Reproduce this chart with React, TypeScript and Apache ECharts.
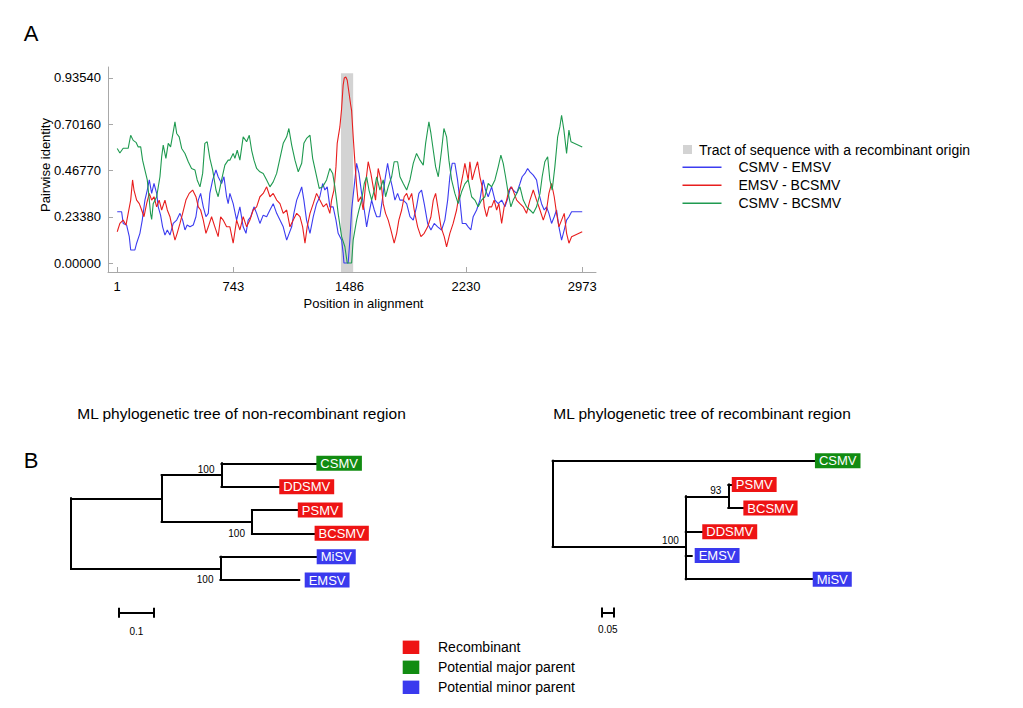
import React, { useEffect, useRef } from "react";
import * as echarts from "echarts";

const FONT = "'Liberation Sans', Arial, Helvetica, sans-serif";

// ---------- Panel A data ----------
const xTickValues = [1, 743, 1486, 2230, 2973];
const yTickValues = [0, 0.2338, 0.4677, 0.7016, 0.9354];
const recombinantTract = [1431, 1509];
const seriesNames = ["CSMV - EMSV", "EMSV - BCSMV", "CSMV - BCSMV"];

const csmvEmsv: [number, number][] = [
  [1,0.259],[29,0.259],[39,0.2],[61,0.192],[78,0.133],[87,0.066],[114,0.066],[125,0.1],[146,0.15],[161,0.217],[178,0.318],[193,0.369],[206,0.42],[221,0.352],[236,0.402],[253,0.352],[263,0.284],[278,0.242],[291,0.183],[306,0.141],[321,0.167],[338,0.141],[359,0.2],[381,0.217],[402,0.251],[419,0.217],[434,0.167],[448,0.192],[466,0.183],[487,0.192],[504,0.234],[519,0.318],[534,0.352],[551,0.284],[568,0.234],[583,0.251],[593,0.352],[611,0.42],[632,0.47],[646,0.436],[668,0.402],[683,0.436],[700,0.335],[710,0.3],[721,0.352],[742,0.3],[764,0.217],[785,0.284],[806,0.183],[824,0.15],[838,0.217],[854,0.234],[875,0.284],[892,0.251],[913,0.2],[934,0.242],[956,0.234],[977,0.268],[998,0.3],[1020,0.251],[1041,0.217],[1062,0.183],[1084,0.116],[1100,0.15],[1116,0.183],[1130,0.251],[1148,0.318],[1169,0.36],[1180,0.385],[1194,0.318],[1211,0.217],[1233,0.15],[1254,0.234],[1275,0.3],[1296,0.335],[1314,0.402],[1328,0.369],[1343,0.385],[1360,0.284],[1381,0.284],[1399,0.217],[1413,0.15],[1435,0.116],[1445,0.05],[1450,0.0],[1477,0.0],[1488,0.116],[1499,0.268],[1520,0.42],[1531,0.504],[1546,0.453],[1563,0.352],[1580,0.268],[1595,0.183],[1610,0.251],[1627,0.318],[1644,0.268],[1659,0.234],[1680,0.234],[1695,0.318],[1712,0.42],[1729,0.504],[1744,0.436],[1759,0.385],[1776,0.318],[1793,0.352],[1808,0.318],[1829,0.318],[1851,0.3],[1872,0.234],[1893,0.217],[1914,0.284],[1929,0.352],[1946,0.369],[1963,0.3],[1985,0.2],[2006,0.167],[2027,0.2],[2049,0.183],[2074,0.167],[2095,0.217],[2113,0.318],[2127,0.436],[2142,0.504],[2159,0.504],[2176,0.42],[2191,0.318],[2206,0.2],[2228,0.2],[2244,0.183],[2261,0.167],[2276,0.234],[2298,0.268],[2319,0.318],[2340,0.42],[2355,0.369],[2372,0.335],[2394,0.385],[2415,0.318],[2436,0.3],[2458,0.318],[2479,0.284],[2500,0.335],[2515,0.385],[2532,0.369],[2554,0.352],[2575,0.402],[2589,0.436],[2607,0.453],[2624,0.478],[2639,0.461],[2660,0.444],[2681,0.42],[2696,0.352],[2713,0.3],[2730,0.268],[2745,0.284],[2760,0.251],[2777,0.2],[2794,0.234],[2809,0.268],[2824,0.183],[2841,0.116],[2858,0.167],[2873,0.217],[2888,0.234],[2905,0.259],[2973,0.259]
];

const emsvBcsmv: [number, number][] = [
  [1,0.158],[18,0.2],[39,0.217],[57,0.192],[71,0.251],[87,0.318],[99,0.42],[108,0.369],[125,0.318],[142,0.3],[157,0.268],[172,0.234],[189,0.3],[206,0.352],[221,0.318],[236,0.335],[253,0.284],[269,0.318],[285,0.268],[306,0.318],[321,0.268],[338,0.234],[355,0.167],[370,0.116],[384,0.15],[402,0.2],[419,0.251],[440,0.318],[461,0.352],[483,0.369],[504,0.335],[519,0.284],[534,0.268],[551,0.217],[568,0.15],[583,0.183],[604,0.234],[625,0.183],[646,0.133],[662,0.234],[678,0.217],[700,0.183],[721,0.183],[742,0.1],[764,0.217],[785,0.167],[806,0.234],[828,0.183],[849,0.217],[870,0.268],[892,0.284],[913,0.335],[934,0.352],[956,0.385],[977,0.335],[998,0.352],[1020,0.318],[1041,0.3],[1062,0.251],[1084,0.268],[1105,0.183],[1126,0.217],[1148,0.251],[1169,0.234],[1186,0.183],[1201,0.1],[1215,0.183],[1233,0.251],[1254,0.3],[1275,0.352],[1296,0.318],[1318,0.284],[1339,0.3],[1360,0.251],[1371,0.318],[1386,0.369],[1399,0.486],[1407,0.605],[1424,0.688],[1435,0.78],[1445,0.9],[1452,0.935],[1462,0.94],[1471,0.924],[1477,0.89],[1493,0.8],[1499,0.77],[1509,0.64],[1520,0.51],[1531,0.39],[1541,0.31],[1558,0.335],[1573,0.268],[1589,0.402],[1605,0.512],[1622,0.453],[1637,0.385],[1652,0.318],[1669,0.478],[1686,0.42],[1701,0.3],[1716,0.251],[1733,0.217],[1750,0.167],[1771,0.1],[1787,0.15],[1801,0.217],[1819,0.268],[1835,0.335],[1851,0.352],[1865,0.318],[1883,0.352],[1899,0.268],[1921,0.183],[1942,0.133],[1963,0.15],[1985,0.183],[2006,0.234],[2021,0.318],[2036,0.352],[2053,0.268],[2070,0.183],[2091,0.133],[2106,0.082],[2127,0.15],[2148,0.2],[2170,0.268],[2191,0.369],[2212,0.453],[2223,0.504],[2244,0.42],[2255,0.512],[2270,0.42],[2287,0.47],[2304,0.512],[2319,0.436],[2334,0.385],[2347,0.284],[2362,0.234],[2377,0.284],[2394,0.284],[2410,0.318],[2426,0.268],[2440,0.3],[2458,0.2],[2474,0.284],[2490,0.318],[2504,0.369],[2522,0.385],[2538,0.352],[2554,0.318],[2575,0.3],[2596,0.284],[2617,0.251],[2639,0.318],[2660,0.369],[2681,0.318],[2703,0.268],[2724,0.217],[2745,0.268],[2760,0.352],[2777,0.402],[2794,0.335],[2809,0.251],[2824,0.183],[2841,0.217],[2858,0.251],[2873,0.15],[2888,0.1],[2905,0.133],[2973,0.158]
];

const csmvBcsmv: [number, number][] = [
  [1,0.579],[18,0.556],[39,0.58],[71,0.58],[87,0.646],[103,0.62],[121,0.61],[135,0.587],[151,0.587],[163,0.52],[178,0.47],[193,0.42],[206,0.318],[214,0.25],[221,0.22],[231,0.3],[253,0.335],[274,0.436],[285,0.537],[295,0.596],[312,0.529],[327,0.605],[342,0.587],[359,0.663],[370,0.714],[381,0.655],[397,0.638],[413,0.579],[434,0.554],[455,0.512],[476,0.478],[498,0.47],[512,0.42],[530,0.385],[547,0.453],[561,0.605],[576,0.613],[593,0.529],[611,0.47],[632,0.369],[646,0.335],[668,0.42],[689,0.495],[710,0.52],[721,0.52],[742,0.554],[753,0.529],[768,0.57],[785,0.52],[806,0.638],[828,0.613],[845,0.646],[860,0.57],[875,0.52],[892,0.478],[913,0.461],[934,0.453],[956,0.42],[977,0.385],[998,0.41],[1020,0.453],[1041,0.529],[1062,0.605],[1084,0.638],[1098,0.68],[1116,0.596],[1137,0.52],[1158,0.461],[1180,0.504],[1194,0.605],[1211,0.63],[1233,0.646],[1250,0.529],[1271,0.453],[1292,0.377],[1314,0.385],[1339,0.42],[1360,0.478],[1378,0.453],[1392,0.385],[1403,0.318],[1413,0.251],[1435,0.133],[1456,0.082],[1471,0.0],[1499,0.0],[1509,0.116],[1531,0.217],[1546,0.268],[1563,0.318],[1580,0.402],[1595,0.436],[1610,0.369],[1627,0.318],[1644,0.369],[1659,0.436],[1680,0.369],[1701,0.42],[1716,0.335],[1733,0.385],[1755,0.436],[1771,0.512],[1793,0.512],[1808,0.436],[1829,0.402],[1851,0.369],[1872,0.42],[1893,0.504],[1914,0.554],[1936,0.52],[1957,0.495],[1972,0.605],[1993,0.714],[2006,0.655],[2021,0.57],[2036,0.486],[2053,0.436],[2074,0.57],[2089,0.68],[2106,0.638],[2121,0.52],[2138,0.42],[2159,0.352],[2180,0.3],[2202,0.36],[2223,0.4],[2244,0.42],[2266,0.335],[2287,0.318],[2308,0.284],[2330,0.318],[2351,0.335],[2372,0.402],[2394,0.385],[2415,0.42],[2436,0.486],[2453,0.545],[2468,0.504],[2483,0.436],[2500,0.352],[2517,0.284],[2532,0.318],[2554,0.352],[2575,0.385],[2596,0.318],[2617,0.284],[2639,0.268],[2660,0.251],[2681,0.284],[2703,0.352],[2717,0.436],[2734,0.512],[2752,0.537],[2766,0.42],[2781,0.369],[2798,0.486],[2816,0.638],[2830,0.688],[2841,0.747],[2856,0.672],[2873,0.554],[2888,0.672],[2901,0.613],[2973,0.587]
];

// ---------- Panel B data (trees) ----------
// [node id, parent id, branch length, optional attachment row for polytomies]
type NodeDef = [string, string | null, number, number?];

const leftTreeLeaves = ["CSMV", "DDSMV", "PSMV", "BCSMV", "MiSV", "EMSV"];
const leftTreeNodes: NodeDef[] = [
  ["root", null, 0],
  ["n1", "root", 0.259],
  ["n2", "n1", 0.171],
  ["CSMV", "n2", 0.271],
  ["DDSMV", "n2", 0.165],
  ["n3", "n1", 0.258],
  ["PSMV", "n3", 0.131],
  ["BCSMV", "n3", 0.179],
  ["n4", "root", 0.427],
  ["MiSV", "n4", 0.275],
  ["EMSV", "n4", 0.225],
];
const leftTreeSupport: [string, number, string][] = [["n2", 100, "above"], ["n3", 100, "below"], ["n4", 100, "below"]];
const leftScaleBar = 0.1;

const rightTreeLeaves = ["CSMV", "PSMV", "BCSMV", "DDSMV", "EMSV", "MiSV"];
const rightTreeNodes: NodeDef[] = [
  ["root", null, 0],
  ["CSMV", "root", 1.066],
  ["n1", "root", 0.541, 3.63],
  ["n2", "n1", 0.173],
  ["PSMV", "n2", 0.014],
  ["BCSMV", "n2", 0.061],
  ["DDSMV", "n1", 0.067],
  ["EMSV", "n1", 0.024],
  ["MiSV", "n1", 0.516],
];
const rightTreeSupport: [string, number, string][] = [["n2", 93, "above"], ["n1", 100, "above"]];
const rightScaleBar = 0.05;

const leafGroups: Record<string, string> = {
  CSMV: "major", DDSMV: "recombinant", PSMV: "recombinant", BCSMV: "recombinant", MiSV: "minor", EMSV: "minor",
};
const groupLegend = [
  ["recombinant", "Recombinant"],
  ["major", "Potential major parent"],
  ["minor", "Potential minor parent"],
];

// ---------- styles ----------
const LINE_COLORS = ["#3c3cf0", "#e81e1e", "#1f9a50"];
const GROUP_COLORS: Record<string, string> = { recombinant: "#ee1414", major: "#128c12", minor: "#3a3aee" };
const TRACT_COLOR = "#d3d3d3";
const AXIS_GRAY = "#a8a8a8";

const X_MIN = -58, X_MAX = 3061;
const Y_MIN = -0.0455, Y_MAX = 0.991;
const TRACT_TOP = 0.959;

function layoutTree(nodes: NodeDef[], leaves: string[]) {
  const map: Record<string, any> = {};
  nodes.forEach(([id, parent, len, yo]) => {
    const px = parent ? map[parent].x : 0;
    map[id] = { id, parent, x: px + len, y: NaN, yo, children: [] as string[] };
    if (parent) map[parent].children.push(id);
  });
  const getY = (id: string): number => {
    const n = map[id];
    if (!isNaN(n.y)) return n.y;
    if (n.children.length === 0) n.y = leaves.indexOf(id);
    else {
      const ys = n.children.map(getY);
      n.y = n.yo !== undefined ? n.yo : ys.reduce((a: number, b: number) => a + b, 0) / ys.length;
    }
    return n.y;
  };
  nodes.forEach(([id]) => getY(id));
  const segs: number[][][] = [];
  Object.values(map).forEach((n: any) => {
    if (n.parent) segs.push([[map[n.parent].x, n.y], [n.x, n.y]]);
    if (n.children.length) {
      const ys = n.children.map((c: string) => map[c].y);
      segs.push([[n.x, Math.min(...ys)], [n.x, Math.max(...ys)]]);
    }
  });
  return { map, segs };
}

function treeSeries(
  idx: number,
  nodes: NodeDef[],
  leaves: string[],
  support: [string, number, string][],
  scaleLen: number,
  scaleX: number,
  scaleY: number,
  capH: number,
  scaleLabelY: number,
  labelGaps: Record<string, number>
) {
  const { map, segs } = layoutTree(nodes, leaves);
  const barSegs = [
    [[scaleX, scaleY], [scaleX + scaleLen, scaleY]],
    [[scaleX, scaleY - capH], [scaleX, scaleY + capH]],
    [[scaleX + scaleLen, scaleY - capH], [scaleX + scaleLen, scaleY + capH]],
  ];
  const common = {
    xAxisIndex: idx,
    yAxisIndex: idx,
    silent: true,
  };
  return [
    {
      type: "lines",
      coordinateSystem: "cartesian2d",
      ...common,
      polyline: false,
      lineStyle: { color: "#000", width: 2, opacity: 1, cap: "square" },
      data: segs.map((s) => ({ coords: s })),
    },
    {
      type: "lines",
      coordinateSystem: "cartesian2d",
      ...common,
      polyline: false,
      lineStyle: { color: "#000", width: 2, opacity: 1 },
      data: barSegs.map((s) => ({ coords: s })),
    },
    {
      type: "scatter",
      ...common,
      symbolSize: 0,
      itemStyle: { opacity: 1 },
      data: leaves.map((name) => ({
        value: [map[name].x, map[name].y],
        name,
        label: { backgroundColor: GROUP_COLORS[leafGroups[name]], distance: labelGaps[name] || 0 },
      })),
      label: {
        show: true,
        position: "right",
        distance: 0,
        formatter: "{b}",
        color: "#fff",
        opacity: 1,
        fontSize: 13,
        fontFamily: FONT,
        lineHeight: 13,
        padding: [1, 4, 1, 4],
      },
    },
    {
      type: "scatter",
      ...common,
      symbolSize: 0,
      itemStyle: { opacity: 1 },
      data: support.map(([id, v, side]) => ({
        value: [map[id].x, map[id].y],
        name: String(v),
        label: { offset: [0, side === "above" ? -6 : 11.5] },
      })),
      label: { show: true, position: "left", distance: 7, formatter: "{b}", color: "#000", opacity: 1, fontSize: 10, fontFamily: FONT },
    },
    {
      type: "scatter",
      ...common,
      symbolSize: 0,
      itemStyle: { opacity: 1 },
      data: [{ value: [scaleX + scaleLen / 2, scaleLabelY], name: String(scaleLen) }],
      label: { show: true, position: "inside", formatter: "{b}", color: "#000", opacity: 1, fontSize: 10, fontFamily: FONT },
    },
  ];
}

function buildOption() {
  const lineData = [csmvEmsv, emsvBcsmv, csmvBcsmv];
  const lineSeries = lineData.map((d, i) => ({
    type: "line",
    name: seriesNames[i],
    xAxisIndex: 0,
    yAxisIndex: 0,
    data: d,
    showSymbol: false,
    symbol: "none",
    silent: true,
    lineStyle: { color: LINE_COLORS[i], width: 1.1 },
    z: 3,
    markArea:
      i === 0
        ? {
            silent: true,
            itemStyle: { color: TRACT_COLOR, opacity: 1 },
            data: [[{ xAxis: recombinantTract[0], yAxis: Y_MIN }, { xAxis: recombinantTract[1], yAxis: TRACT_TOP }]],
          }
        : undefined,
  }));

  const hiddenAxis = { show: false, splitLine: { show: false } };

  const graphic: any[] = [
    { type: "text", x: 31, y: 33, style: { text: "A", fontSize: 22, fontFamily: FONT, fill: "#000", align: "center", verticalAlign: "middle" } },
    { type: "text", x: 31, y: 460, style: { text: "B", fontSize: 22, fontFamily: FONT, fill: "#000", align: "center", verticalAlign: "middle" } },
    { type: "text", x: 45, y: 165, rotation: Math.PI / 2, style: { text: "Pairwise identity", fontSize: 13, fontFamily: FONT, fill: "#000", align: "center", verticalAlign: "middle" } },
    { type: "text", x: 363.5, y: 303, style: { text: "Position in alignment", fontSize: 13, fontFamily: FONT, fill: "#000", align: "center", verticalAlign: "middle" } },
    { type: "rect", shape: { x: 683, y: 145, width: 9, height: 9 }, style: { fill: TRACT_COLOR } },
    { type: "text", x: 699, y: 149.5, style: { text: "Tract of sequence with a recombinant origin", fontSize: 14, fontFamily: FONT, fill: "#000", verticalAlign: "middle" } },
    { type: "text", x: 241.5, y: 413, style: { text: "ML phylogenetic tree of non-recombinant region", fontSize: 15.5, fontFamily: FONT, fill: "#000", align: "center", verticalAlign: "middle" } },
    { type: "text", x: 702, y: 413, style: { text: "ML phylogenetic tree of recombinant region", fontSize: 15.5, fontFamily: FONT, fill: "#000", align: "center", verticalAlign: "middle" } },
  ];
  seriesNames.forEach((n, i) => {
    const y = 167.3 + i * 18;
    graphic.push({ type: "line", shape: { x1: 682.5, y1: y, x2: 721.5, y2: y }, style: { stroke: LINE_COLORS[i], lineWidth: 1.6 } });
    graphic.push({ type: "text", x: 738.5, y, style: { text: n, fontSize: 14, fontFamily: FONT, fill: "#000", verticalAlign: "middle" } });
  });
  groupLegend.forEach(([g, label], i) => {
    const y = 647.3 + i * 20;
    graphic.push({ type: "rect", shape: { x: 402.7, y: y - 6.7, width: 16.6, height: 13.4 }, style: { fill: GROUP_COLORS[g] } });
    graphic.push({ type: "text", x: 438, y, style: { text: label, fontSize: 14, fontFamily: FONT, fill: "#000", verticalAlign: "middle" } });
  });

  return {
    animation: false,
    backgroundColor: "#fff",
    textStyle: { fontFamily: FONT },
    grid: [
      { left: 108, top: 67, width: 488, height: 205 },
      { left: 71, top: 440, width: 350, height: 210 },
      { left: 552.7, top: 437, width: 295.2, height: 213.3 },
    ],
    xAxis: [
      {
        type: "value",
        gridIndex: 0,
        min: X_MIN,
        max: X_MAX,
        axisLine: { show: true, onZero: false, lineStyle: { color: AXIS_GRAY, width: 1 } },
        axisTick: { show: true, inside: true, length: 5, customValues: xTickValues, lineStyle: { color: AXIS_GRAY } },
        axisLabel: {
          show: true,
          customValues: xTickValues,
          color: "#000",
          fontSize: 13,
          fontFamily: FONT,
          margin: 8,
          formatter: (v: number) => String(v),
        },
        splitLine: { show: false },
      },
      { type: "value", gridIndex: 1, min: 0, max: 1, ...hiddenAxis },
      { type: "value", gridIndex: 2, min: 0, max: 1.2, ...hiddenAxis },
    ],
    yAxis: [
      {
        type: "value",
        gridIndex: 0,
        min: Y_MIN,
        max: Y_MAX,
        axisLine: { show: true, onZero: false, lineStyle: { color: AXIS_GRAY, width: 1 } },
        axisTick: { show: true, inside: true, length: 5, customValues: yTickValues, lineStyle: { color: AXIS_GRAY } },
        axisLabel: {
          show: true,
          customValues: yTickValues,
          color: "#000",
          fontSize: 13,
          fontFamily: FONT,
          margin: 7,
          formatter: (v: number) => v.toFixed(5),
        },
        splitLine: { show: false },
      },
      { type: "value", gridIndex: 1, min: -1, max: 8, inverse: true, ...hiddenAxis },
      { type: "value", gridIndex: 2, min: -1, max: 8, inverse: true, ...hiddenAxis },
    ],
    series: [
      ...lineSeries,
      ...treeSeries(1, leftTreeNodes, leftTreeLeaves, leftTreeSupport, leftScaleBar, 0.137, 6.4, 0.214, 7.22, { EMSV: 5.5 }),
      ...treeSeries(2, rightTreeNodes, rightTreeLeaves, rightTreeSupport, rightScaleBar, 0.199, 6.41, 0.211, 7.14, { EMSV: 3 }),
    ],
    graphic,
  };
}

export default function App() {
  const ref = useRef<HTMLDivElement>(null);
  useEffect(() => {
    if (!ref.current) return;
    const chart = echarts.init(ref.current, null, { renderer: "svg" });
    chart.setOption(buildOption() as any);
    return () => chart.dispose();
  }, []);
  return (
    <div
      ref={ref}
      style={{ position: "absolute", left: 0, top: 0, width: 1023, height: 708, background: "#fff" }}
    />
  );
}
